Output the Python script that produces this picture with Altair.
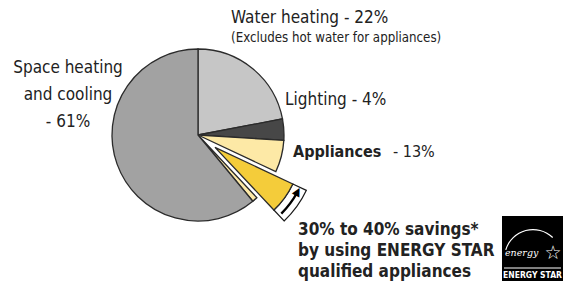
import altair as alt
import pandas as pd
import math

# ---- data ----
categories = ["Water heating", "Lighting", "Appliances", "Space heating and cooling"]
shares = [22, 4, 13, 61]  # percent of home energy use
# the appliance slice is drawn in three parts: before the cut-out, the savings wedge, the tail
appliance_parts = ["Appliances", "Savings", "Appliances tail"]
appliance_shares = [6, 6, 1]

segments = ["Water heating", "Lighting", "Appliances", "Savings", "Appliances tail",
            "Space heating and cooling"]
seg_values = [shares[0], shares[1]] + appliance_shares + [shares[3]]
seg_colors = ["#c6c6c6", "#474747", "#fde9a6", "#f4cc3a", "#fde9a6", "#a2a2a2"]

df = pd.DataFrame({"segment": segments, "value": seg_values})
df["end"] = df["value"].cumsum()
df["start"] = df["end"] - df["value"]

FONT = "'Liberation Sans Narrow', 'DejaVu Sans Condensed', 'Arial Narrow', sans-serif"
TXT = "#222222"

theta_scale = alt.Scale(domain=[0, 100], range=[0, 6.283185307])
color_scale = alt.Scale(domain=segments, range=seg_colors)

CX, CY, R = 190, 127, 86
row = df[df.segment == "Savings"].iloc[0]
mid = (row.start + row.end) / 2 / 100 * 2 * math.pi
EXP = 21
EX, EY = CX + EXP * math.sin(mid), CY - EXP * math.cos(mid)

base = alt.Chart(df)

pie = base.transform_filter(alt.datum.segment != "Savings").mark_arc(
    radius=R, stroke="#2b2b2b", strokeWidth=1.3
).encode(
    theta=alt.Theta("start:Q", stack=None, scale=theta_scale),
    theta2="end:Q",
    color=alt.Color("segment:N", scale=color_scale, legend=None),
    x=alt.value(CX), y=alt.value(CY),
)

savings = base.transform_filter(alt.datum.segment == "Savings")

band = savings.mark_arc(radius=R + 15, radius2=R, fill="white", stroke="#1a1a1a",
                        strokeWidth=1.2).encode(
    theta=alt.Theta("start:Q", stack=None, scale=theta_scale),
    theta2="end:Q",
    x=alt.value(EX), y=alt.value(EY),
)

wedge = savings.mark_arc(radius=R, stroke="#2b2b2b", strokeWidth=1.3).encode(
    theta=alt.Theta("start:Q", stack=None, scale=theta_scale),
    theta2="end:Q",
    color=alt.Color("segment:N", scale=color_scale, legend=None),
    x=alt.value(EX), y=alt.value(EY),
)

arrow_line = savings.transform_calculate(
    a0="datum.start + 1.0", a1="datum.end - 0.5"
).mark_arc(radius=R + 9, radius2=R + 6.6, fill="black").encode(
    theta=alt.Theta("a0:Q", stack=None, scale=theta_scale),
    theta2="a1:Q",
    x=alt.value(EX), y=alt.value(EY),
)

head_pos = row.start + 0.8
head_angle = head_pos / 100 * 360 - 90
arrow_head = savings.transform_calculate(h="datum.start + 0.8").mark_text(
    text="▲", fontSize=11, angle=head_angle % 360, font="DejaVu Sans",
    align="center", baseline="middle", color="black", radius=R + 7.8
).encode(
    theta=alt.Theta("h:Q", stack=None, scale=theta_scale),
    x=alt.value(EX), y=alt.value(EY),
)


def label(text, x, y, size=16, weight="normal", align="left", color=TXT, font=FONT,
          line_height=None, style=None):
    kw = dict(text=text, fontSize=size, fontWeight=weight, align=align, baseline="alphabetic",
              color=color, font=font)
    if line_height:
        kw["lineBreak"] = "\n"
        kw["lineHeight"] = line_height
    if style:
        kw["fontStyle"] = style
    return alt.Chart(pd.DataFrame({"k": [0]})).mark_text(**kw).encode(
        x=alt.value(x), y=alt.value(y))


labels = [
    label("Water heating  - 22%", 223, 15, 17),
    label("(Excludes hot water for appliances)", 223, 34, 13.2),
    label("Space heating\nand cooling\n- 61%", 60, 65, 17, align="center", line_height=27),
    label("Lighting  - 4%", 277, 97, 17),
    label("Appliances", 285, 149, 16, weight="bold"),
    label("- 13%", 385, 149, 16),
    label("30% to 40% savings*\nby using ENERGY STAR\nqualified appliances", 290, 227, 17,
          weight="bold", line_height=21),
]

# ENERGY STAR mark
LX0, LX1, LY0, LY1 = 494, 555, 208, 273
logo_box = alt.Chart(pd.DataFrame({"k": [0]})).mark_rect(color="black").encode(
    x=alt.value(LX0), x2=alt.value(LX1), y=alt.value(LY0), y2=alt.value(LY1))
logo_rule = alt.Chart(pd.DataFrame({"k": [0]})).mark_rule(color="white", strokeWidth=1).encode(
    x=alt.value(LX0 + 2), x2=alt.value(LX1 - 2), y=alt.value(LY1 - 13))
logo_arc = alt.Chart(pd.DataFrame({"k": [0]})).mark_arc(
    radius=29, radius2=27.8, fill="white").encode(
    theta=alt.value(5.0), theta2=alt.value(7.05),
    x=alt.value(LX0 + 31), y=alt.value(LY0 + 42))
logo_items = [
    logo_box, logo_rule, logo_arc,
    label("energy", LX0 + 3, LY0 + 40, 9.5, color="white",
          font="DejaVu Serif", style="italic"),
    label("☆", LX0 + 51, LY0 + 43, 19, color="white", font="DejaVu Sans", align="center"),
    label("ENERGY STAR", (LX0 + LX1) / 2, LY1 - 3, 8.5, weight="bold", color="white",
          align="center"),
]

chart = alt.layer(pie, band, wedge, arrow_line, arrow_head, *labels, *logo_items).properties(
    width=556, height=274, padding=0, autosize="none"
).configure_view(stroke=None)

chart.save("out.html", embed_options={"renderer": "svg", "actions": False})
